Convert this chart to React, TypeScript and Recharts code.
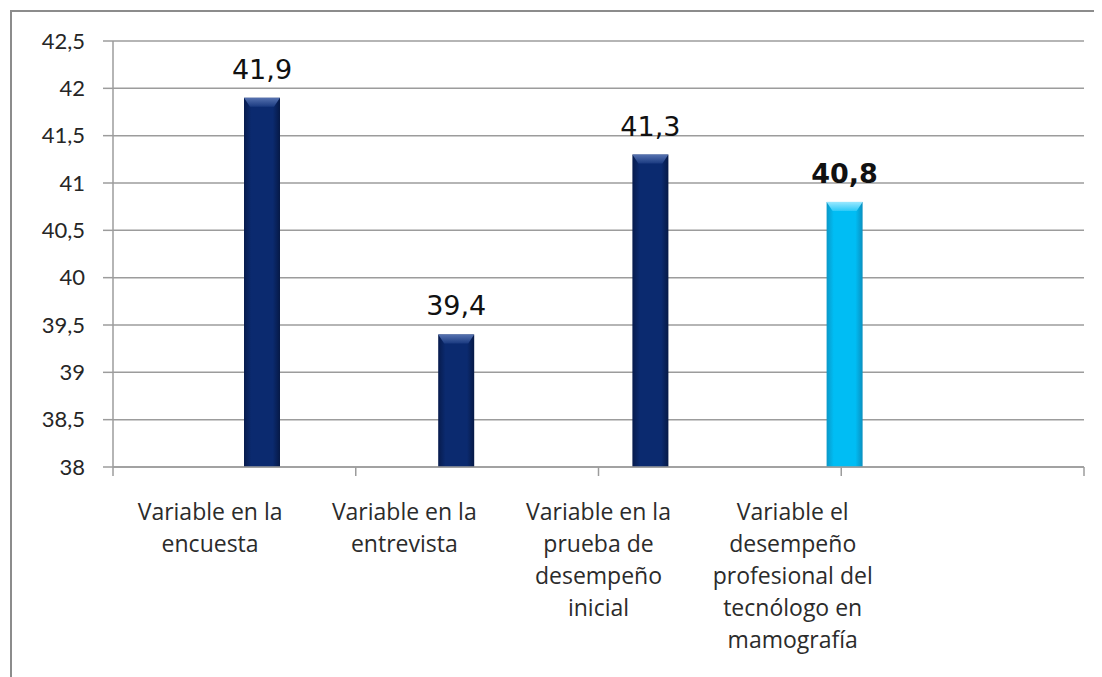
import React from 'react';
import { BarChart, Bar, XAxis, YAxis, CartesianGrid, LabelList } from 'recharts';

// category labels, one entry per line of the wrapped label
const categories: string[][] = [
  ['Variable en la', 'encuesta'],
  ['Variable en la', 'entrevista'],
  ['Variable en la', 'prueba de', 'desempeño', 'inicial'],
  ['Variable el', 'desempeño', 'profesional del', 'tecnólogo en', 'mamografía'],
  [],
];
const values: (number | null)[] = [41.9, 39.4, 41.3, 40.8, null];
const highlighted = [false, false, false, true, false];
const yTicks = [38, 38.5, 39, 39.5, 40, 40.5, 41, 41.5, 42, 42.5];
const edgeTicks = [0, 1, 2, 3, 4, 5];

const data = categories.map((lines, i) => ({
  name: lines.join(' ') || ' ',
  lines,
  valor: values[i],
  hueco: null,
  destacado: highlighted[i],
}));

const fmt = (v: number) => String(v).replace('.', ',');

const TONES = {
  navy: { grad: 'gradNavy', bevel: 'bevelNavy' },
  cyan: { grad: 'gradCyan', bevel: 'bevelCyan' },
};

const BeveledBar = (props: any) => {
  const { x, y, width, height, payload } = props;
  if (!height || height <= 0) return null;
  const tone = payload.destacado ? TONES.cyan : TONES.navy;
  const b = Math.min(9, height / 2);
  return (
    <g>
      <rect x={x} y={y} width={width} height={height} fill={`url(#${tone.grad})`} />
      <polygon
        points={`${x},${y} ${x + width},${y} ${x + width - 6},${y + b} ${x + 6},${y + b}`}
        fill={`url(#${tone.bevel})`}
      />
    </g>
  );
};

const renderValueLabel = (props: any) => {
  const { x, y, width, value, index } = props;
  if (value == null) return null;
  return (
    <text
      x={x + width / 2}
      y={y - 19}
      textAnchor="middle"
      fontFamily="'DejaVu Sans', sans-serif"
      fontSize={27}
      fontWeight={highlighted[index] ? 'bold' : 'normal'}
      fill="#111"
    >
      {fmt(value)}
    </text>
  );
};

const CategoryTick = (props: any) => {
  const { x, y, payload } = props;
  const lines = data[payload.index]?.lines ?? [];
  return (
    <text x={x} y={y} textAnchor="middle" fontFamily="'Open Sans', sans-serif" fontSize={23} fill="#2b2b2b">
      {lines.map((l, k) => (
        <tspan key={k} x={x} dy={k === 0 ? 44 : 32}>
          {l}
        </tspan>
      ))}
    </text>
  );
};

const NoLabel = () => <g />;

export default function App() {
  return (
    <div style={{ position: 'relative', width: 1102, height: 700, margin: -8, overflow: 'hidden', background: '#fff' }}>
      <div
        style={{
          position: 'absolute',
          left: 10,
          top: 10,
          width: 1200,
          height: 800,
          border: '2px solid #8c8c8c',
        }}
      />
      <div style={{ position: 'absolute', left: 0, top: 0 }}>
        <BarChart
          width={1102}
          height={677}
          data={data}
          margin={{ top: 41, right: 18, bottom: 0, left: 0 }}
          barSize={36}
          barGap={68}
        >
          <defs>
            <linearGradient id="gradNavy" x1="0" y1="0" x2="1" y2="0">
              <stop offset="0%" stopColor="#071b4d" />
              <stop offset="20%" stopColor="#0b2a6f" />
              <stop offset="80%" stopColor="#0b2a6f" />
              <stop offset="100%" stopColor="#061946" />
            </linearGradient>
            <linearGradient id="gradCyan" x1="0" y1="0" x2="1" y2="0">
              <stop offset="0%" stopColor="#0a98c8" />
              <stop offset="20%" stopColor="#00bdf4" />
              <stop offset="80%" stopColor="#00bdf4" />
              <stop offset="100%" stopColor="#0a90c0" />
            </linearGradient>
            <linearGradient id="bevelNavy" x1="0" y1="0" x2="0" y2="1">
              <stop offset="0%" stopColor="#5672b0" />
              <stop offset="100%" stopColor="#1a3a80" />
            </linearGradient>
            <linearGradient id="bevelCyan" x1="0" y1="0" x2="0" y2="1">
              <stop offset="0%" stopColor="#9ae8ff" />
              <stop offset="100%" stopColor="#2ccaf8" />
            </linearGradient>
          </defs>
          <CartesianGrid horizontal vertical={false} stroke="#9c9c9c" strokeWidth={1.5} yAxisId="y" xAxisId="cat" />
          {/* tick marks on the category boundaries */}
          <XAxis
            xAxisId="aristas"
            type="number"
            domain={[0, 5]}
            ticks={edgeTicks}
            tick={<NoLabel />}
            tickSize={9}
            height={1}
            stroke="#9c9c9c"
            strokeWidth={1.5}
          />
          <XAxis
            xAxisId="cat"
            dataKey="name"
            interval={0}
            tickLine={false}
            axisLine={false}
            height={209}
            tick={<CategoryTick />}
          />
          <YAxis
            yAxisId="y"
            domain={[38, 42.5]}
            ticks={yTicks}
            width={113}
            tickSize={10}
            tickMargin={18}
            tickFormatter={fmt}
            stroke="#9c9c9c"
            strokeWidth={1.5}
            tick={{ fill: '#262626', fontFamily: 'Lato, sans-serif', fontSize: 22 }}
            allowDataOverflow
          />
          <Bar dataKey="hueco" xAxisId="cat" yAxisId="y" isAnimationActive={false} />
          <Bar dataKey="valor" xAxisId="cat" yAxisId="y" shape={<BeveledBar />} isAnimationActive={false}>
            <LabelList dataKey="valor" content={renderValueLabel} />
          </Bar>
        </BarChart>
      </div>
    </div>
  );
}
